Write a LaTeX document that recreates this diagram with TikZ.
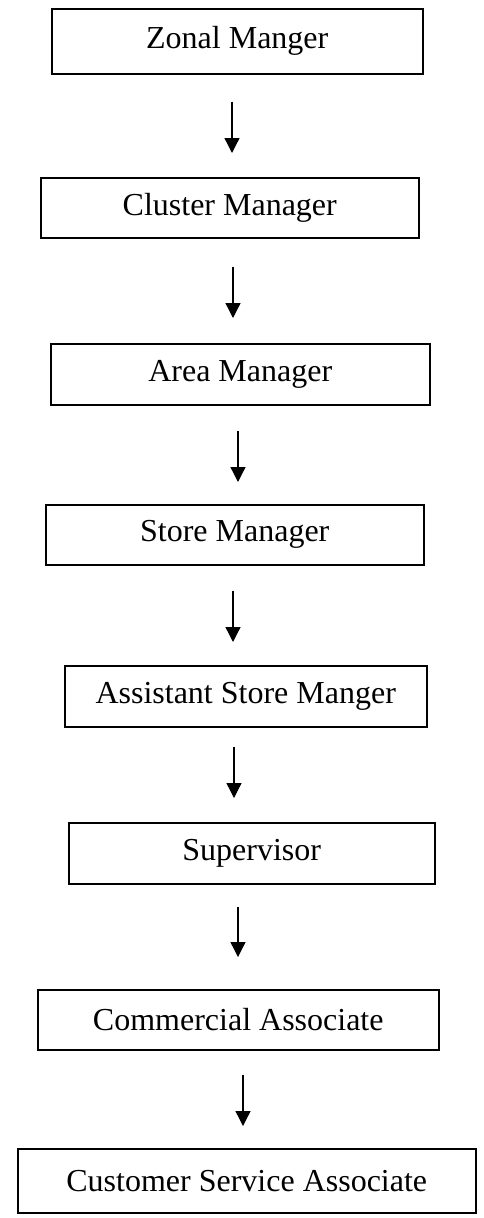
\documentclass[tikz,border=0pt]{standalone}
\usepackage{fontspec}
\setmainfont{Liberation Serif}
\usetikzlibrary{arrows.meta}

\begin{document}
\begin{tikzpicture}[x=1pt, y=-1pt,
        post/.style={draw, line width=1.5pt, inner sep=0, anchor=north west, font=\fontsize{32}{38}\selectfont},
        flow/.style={-{Triangle[width=15pt,length=15pt]}, line width=1.3pt}]
        \useasboundingbox (0,0) rectangle (483,1218);

        \node[post, minimum width=371pt, minimum height=65pt] (zonal) at (51,8) {Zonal Manger};
        \node[post, minimum width=378pt, minimum height=60pt] (cluster) at (40,177) {Cluster Manager};
        \node[post, minimum width=379pt, minimum height=61pt] (area) at (50,343) {Area Manager};
        \node[post, minimum width=378pt, minimum height=60pt] (store) at (45,504) {Store Manager};
        \node[post, minimum width=362pt, minimum height=61pt] (asm) at (64,665) {Assistant Store Manger};
        \node[post, minimum width=366pt, minimum height=61pt] (super) at (68,822) {Supervisor};
        \node[post, minimum width=401pt, minimum height=60pt] (comm) at (37,989) {Commercial Associate};
        \node[post, minimum width=458pt, minimum height=64pt] (csa) at (17,1148) {Customer Service Associate};

        \draw [flow, shorten <=27pt, shorten >=24pt] (zonal.south -| 232,0) -- (cluster.north -| 232,0);
        \draw [flow, shorten <=28pt, shorten >=25pt] (cluster.south -| 233,0) -- (area.north -| 233,0);
        \draw [flow, shorten <=25pt, shorten >=22pt] (area.south -| 238,0) -- (store.north -| 238,0);
        \draw [flow, shorten <=25pt, shorten >=23pt] (store.south -| 233,0) -- (asm.north -| 233,0);
        \draw [flow, shorten <=19pt, shorten >=24pt] (asm.south -| 234,0) -- (super.north -| 234,0);
        \draw [flow, shorten <=22pt, shorten >=32pt] (super.south -| 238,0) -- (comm.north -| 238,0);
        \draw [flow, shorten <=24pt, shorten >=22pt] (comm.south -| 243,0) -- (csa.north -| 243,0);
    \end{tikzpicture}
\end{document}
